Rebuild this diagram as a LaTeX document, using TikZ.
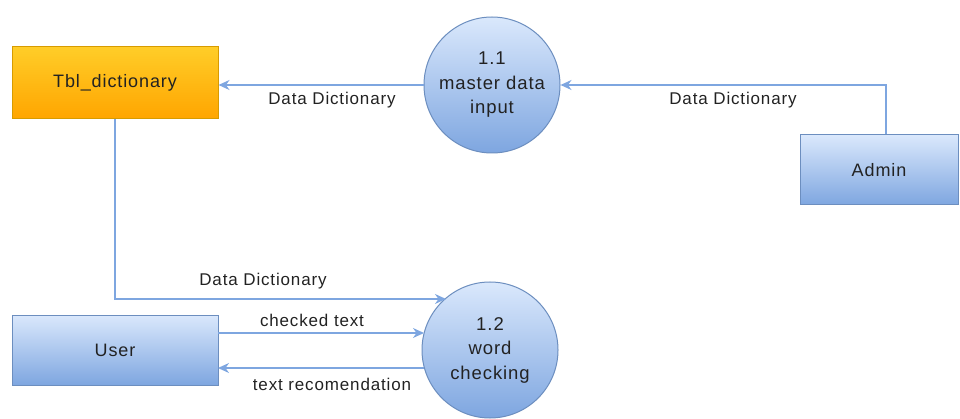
\documentclass[tikz,border=0pt]{standalone}
\usepackage{fontspec}
\setmainfont{Liberation Sans}[LetterSpace=5]
\usetikzlibrary{arrows.meta,shadings}
\definecolor{bluefillA}{HTML}{DAE8FC}
\definecolor{bluefillB}{HTML}{7EA6E0}
\definecolor{blueline}{HTML}{6C8EBF}
\definecolor{flowline}{HTML}{7EA6E0}
\definecolor{orangeA}{HTML}{FFCD28}
\definecolor{orangeB}{HTML}{FFA500}
\definecolor{orangeline}{HTML}{D79B00}
\definecolor{textgrey}{HTML}{222222}
\tikzset{
  entity/.style={draw=blueline, line width=1pt, top color=bluefillA, bottom color=bluefillB,
    minimum width=#1, minimum height=70pt, inner sep=0pt, text=textgrey, font=\fontsize{18}{20}\selectfont},
  store/.style={draw=orangeline, line width=1pt, top color=orangeA, bottom color=orangeB,
    minimum width=206pt, minimum height=72pt, inner sep=0pt, text=textgrey, font=\fontsize{18}{20}\selectfont},
  process/.style={circle, draw=blueline, line width=1pt, top color=bluefillA, bottom color=bluefillB,
    minimum size=136pt, inner sep=0pt, align=center, text=textgrey, font=\fontsize{18.5}{24.5}\selectfont},
  flow/.style={draw=flowline, line width=1.3pt, -{Stealth[length=11pt,width=10pt,inset=3.5pt]}},
  flowlabel/.style={font=\fontsize{17}{19}\selectfont, text=textgrey, inner sep=1pt}
}
\begin{document}
\begin{tikzpicture}[x=1pt,y=-1pt]
  \useasboundingbox (0,0) rectangle (960,419);
  % external entities, data store and processes
  \node[store] (tbl) at (115,83) {Tbl\_dictionary};
  \node[process] (p11) at (492,85) {1.1\\master data\\input};
  \node[entity=158pt] (admin) at (879,170) {Admin};
  \node[entity=206pt] (user) at (115,350) {User};
  \node[process] (p12) at (490,350) {1.2\\word\\checking};
  % flow end points
  \coordinate (adminturn) at (886,85);
  \coordinate (tblturn) at (115,299);
  \coordinate (p12top) at (446,299);
  \coordinate (uA) at (218,333);
  \coordinate (uB) at (218,368);
  \coordinate (pA) at (424,333);
  \coordinate (pB) at (424,368);
  % data flows
  \draw[flow] (admin.north -| adminturn) -- (adminturn) -- (p11.east);
  \draw[flow] (p11.west) -- (p11.west -| tbl.east);
  \draw[flow] (tbl.south) -- (tblturn) -- (p12top);
  \draw[flow] (uA) -- (pA);
  \draw[flow] (pB) -- (uB);
  % flow labels
  \node[flowlabel] (l1) at (733,100) {Data Dictionary};
  \node[flowlabel] (l2) at (332,100) {Data Dictionary};
  \node[flowlabel] (l3) at (263,281) {Data Dictionary};
  \node[flowlabel] (l4) at (312,320) {checked text};
  \node[flowlabel] (l5) at (332,384) {text recomendation};
\end{tikzpicture}
\end{document}
